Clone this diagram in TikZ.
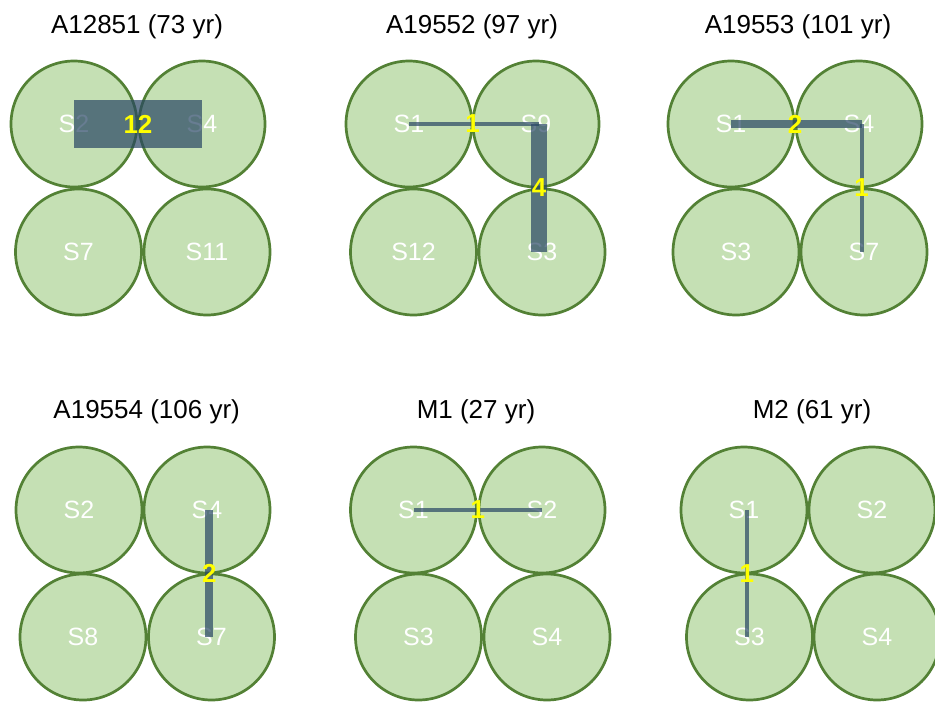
\documentclass[tikz,border=0pt]{standalone}
\usepackage{fontspec}
\setmainfont{Liberation Sans}
\usetikzlibrary{calc}
\definecolor{sitefill}{HTML}{C5E0B4}
\definecolor{siteedge}{HTML}{538135}
\definecolor{linkcol}{RGB}{40,70,100}
\definecolor{wtcol}{HTML}{FFFF00}
\tikzset{
  site/.style={circle, draw=siteedge, fill=sitefill, line width=2.7pt,
    minimum size=126pt, inner sep=0pt, text=white,
    font=\fontsize{25}{26}\selectfont},
  ttl/.style={anchor=base, inner sep=0pt, font=\fontsize{26}{28}\selectfont},
  link/.style={draw=linkcol, draw opacity=0.7, line width=#1*4pt, line cap=butt},
  wt/.style={text=wtcol, inner sep=0pt, font=\fontsize{26}{27}\selectfont\bfseries},
}
\begin{document}
\begin{tikzpicture}[x=1pt, y=-1pt]
\useasboundingbox (0,0) rectangle (935,702);
\clip (0,0) rectangle (935,702);

% ---------- panel 1 ----------
\node[ttl] (t1) at (137,33) {A12851 (73 yr)};
\node[site] (p1a) at (74,124) {S2};
\node[site] (p1b) at (202,124) {S4};
\node[site] (p1c) at (78.5,252) {S7};
\node[site] (p1d) at (207,252) {S11};
\draw[link=12] (p1a.center) -- (p1b.center);
\node[wt] (w1a) at ($(p1a.center)!.5!(p1b.center)$) {12};

% ---------- panel 2 ----------
\node[ttl] (t2) at (472,33) {A19552 (97 yr)};
\node[site] (p2a) at (409,124) {S1};
\node[site] (p2b) at (536,124) {S9};
\node[site] (p2c) at (413.5,252) {S12};
\node[site] (p2d) at (542,252) {S3};
\coordinate (m2) at ($(p2b.center)!.5!(p2d.center)$);
\draw[link=1] (p2a.center) -- (m2 |- p2b.center);
\draw[link=4] (m2 |- p2b.center) -- (m2 |- p2d.center);
\node[wt] (w2a) at ($(p2a.center)!.5!(p2b.center)$) {1};
\node[wt] (w2b) at (m2) {4};

% ---------- panel 3 ----------
\node[ttl] (t3) at (798,33) {A19553 (101 yr)};
\node[site] (p3a) at (731,124) {S1};
\node[site] (p3b) at (859,124) {S4};
\node[site] (p3c) at (736,252) {S3};
\node[site] (p3d) at (864,252) {S7};
\coordinate (m3) at ($(p3b.center)!.5!(p3d.center)$);
\draw[link=2] (p3a.center) -- (m3 |- p3b.center);
\draw[link=1] (m3 |- p3b.center) -- (m3 |- p3d.center);
\node[wt] (w3a) at ($(p3a.center)!.5!(p3b.center)$) {2};
\node[wt] (w3b) at (m3) {1};

% ---------- panel 4 ----------
\node[ttl] (t4) at (146.7,418) {A19554 (106 yr)};
\node[site] (p4a) at (79,510) {S2};
\node[site] (p4b) at (207,510) {S4};
\node[site] (p4c) at (83,637) {S8};
\node[site] (p4d) at (211.5,637) {S7};
\coordinate (m4) at ($(p4b.center)!.5!(p4d.center)$);
\draw[link=2] (m4 |- p4b.center) -- (m4 |- p4d.center);
\node[wt] (w4a) at (m4) {2};

% ---------- panel 5 ----------
\node[ttl] (t5) at (476,418) {M1 (27 yr)};
\node[site] (p5a) at (413.5,510) {S1};
\node[site] (p5b) at (542,510) {S2};
\node[site] (p5c) at (418.5,637) {S3};
\node[site] (p5d) at (547,637) {S4};
\draw[link=1] (p5a.center) -- (p5b.center);
\node[wt] (w5a) at ($(p5a.center)!.5!(p5b.center)$) {1};

% ---------- panel 6 ----------
\node[ttl] (t6) at (812,418) {M2 (61 yr)};
\node[site] (p6a) at (744,510) {S1};
\node[site] (p6b) at (872,510) {S2};
\node[site] (p6c) at (749.5,637) {S3};
\node[site] (p6d) at (877,637) {S4};
\coordinate (m6) at ($(p6a.center)!.5!(p6c.center)$);
\draw[link=1] (m6 |- p6a.center) -- (m6 |- p6c.center);
\node[wt] (w6a) at (m6) {1};
\end{tikzpicture}
\end{document}
